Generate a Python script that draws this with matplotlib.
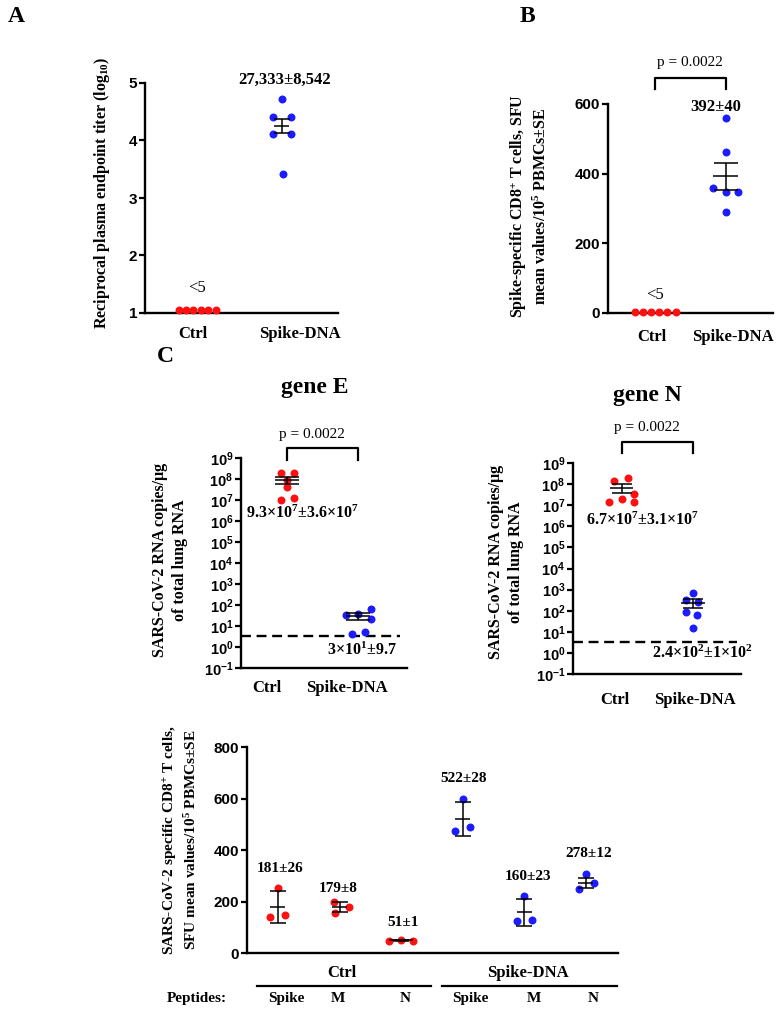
import matplotlib

matplotlib.use("Agg")
import matplotlib.pyplot as plt
from matplotlib.ticker import FixedFormatter, FixedLocator, NullLocator
import numpy as np

W, H = 782, 1013
RED = "#ff1010"
BLUE = "#1c1cff"

plt.rcParams["font.family"] = ["Liberation Serif", "DejaVu Serif"]
plt.rcParams["font.weight"] = "bold"
plt.rcParams["mathtext.fontset"] = "custom"
plt.rcParams["mathtext.rm"] = "Liberation Serif:bold"
plt.rcParams["mathtext.bf"] = "Liberation Serif:bold"
plt.rcParams["mathtext.it"] = "Liberation Serif:italic:bold"
plt.rcParams["mathtext.sf"] = "Liberation Sans:bold"

# ---------------- data ----------------
groups = ["Ctrl", "Spike-DNA"]

# A: reciprocal plasma endpoint titer (log10)
a_ctrl = [1.06, 1.06, 1.06, 1.06, 1.06, 1.06]
a_spike = [4.72, 4.40, 4.40, 4.12, 4.12, 3.42]
a_mean, a_err = 4.25, 0.12

# B: spike-specific CD8+ T cells (SFU)
b_ctrl = [3, 3, 3, 3, 3, 3]
b_spike = [560, 461, 359, 346, 346, 289]
b_mean, b_err = 392, 40

# C: lung RNA copies, gene E / gene N (log10 of copies)
e_ctrl = [8.28, 8.28, 7.93, 7.61, 6.98, 7.09]
e_spike = [1.52, 1.56, 1.79, 1.31, 0.64, 0.72]
e_stats = [(9.3e7, 3.6e7), (3.0e1, 9.7)]
n_ctrl = [8.13, 8.29, 7.51, 7.29, 7.16, 7.15]
n_spike = [2.85, 2.53, 2.42, 1.95, 1.79, 1.20]
n_stats = [(6.7e7, 3.1e7), (2.4e2, 1.0e2)]
lod = 10 ** 0.51

# bottom: SFU per peptide
peptides = ["Spike", "M", "N", "Spike", "M", "N"]
pep_vals = [
    [252, 140, 146],
    [197, 155, 179],
    [48, 50, 48],
    [599, 472, 489],
    [223, 126, 129],
    [308, 249, 272],
]
pep_mean = [179, 179, 49, 520, 158, 272]
pep_err = [61, 20, 1, 66, 52, 20]
pep_labels = ["181±26", "179±8", "51±1", "522±28", "160±23", "278±12"]

fig = plt.figure(figsize=(W / 100, H / 100), dpi=100)


def px_axes(l, t, r, b):
    return fig.add_axes([l / W, 1 - b / H, (r - l) / W, (b - t) / H])


def ftext(x, y, s, **kw):
    kw.setdefault("ha", "center")
    kw.setdefault("va", "center")
    fig.text(x / W, 1 - y / H, s, **kw)


def style(ax):
    for s in ("top", "right"):
        ax.spines[s].set_visible(False)
    for s in ("left", "bottom"):
        ax.spines[s].set_linewidth(1.7)
    ax.tick_params(axis="y", direction="out", length=4, width=1.6,
                   labelsize=11, pad=1.5, labelfontfamily="Liberation Sans")
    ax.set_xticks([])
    ax.patch.set_alpha(0)


def mean_err(ax, x, m, e, half, cap):
    ax.errorbar([x], [m], yerr=[[e], [e]], fmt="none", ecolor="k",
                elinewidth=1.1, capsize=cap, capthick=1.1, zorder=4)
    ax.hlines(m, x - half, x + half, color="k", lw=1.1, zorder=4)


def dots(ax, x, offs, vals, color):
    ax.scatter(np.array(offs) + x, vals, s=33, color=color, linewidths=0,
               zorder=3, clip_on=False)


# ---------------- panel A ----------------
axA = px_axes(145, 83, 338, 313)
style(axA)
axA.set_xlim(0.388, 2.659)
axA.set_ylim(1, 5)
axA.set_yticks([1, 2, 3, 4, 5])
u = 1 / 85
dots(axA, 1, [-18.5 * u, -11 * u, -3.7 * u, 3.7 * u, 11 * u, 18.5 * u], a_ctrl, RED)
dots(axA, 2, [0, -9 * u, 9 * u, -9 * u, 9 * u, 1 * u], a_spike, BLUE)
mean_err(axA, 2, a_mean, a_err, 7.5 * u, 5.8)
axA.text(2.03, 5.06, "27,333±8,542", ha="center", va="center", fontsize=12, clip_on=False)
axA.text(1, 1.43, "<5", ha="center", va="center", fontsize=12, fontweight="normal")
ftext(193, 334, groups[0], fontsize=12)
ftext(300, 334, groups[1], fontsize=12)
ftext(102, 193, "Reciprocal plasma endpoint titer (log$_{10}$)", rotation=90, fontsize=11.5)
ftext(16, 16, "A", fontsize=17)

# ---------------- panel B ----------------
axB = px_axes(608, 104, 773, 313)
style(axB)
axB.set_xlim(0.338, 2.662)
axB.set_ylim(0, 600)
axB.set_yticks([0, 200, 400, 600])
u = 1 / 71
dots(axB, 1, [-20.5 * u, -12.3 * u, -4.1 * u, 4.1 * u, 12.3 * u, 20.5 * u], b_ctrl, RED)
dots(axB, 2, [0, 0, -13 * u, 0, 12 * u, 0], b_spike, BLUE)
mean_err(axB, 2, b_mean, b_err, 12.5 * u, 8.6)
axB.plot([1, 1, 2, 2], [643, 675, 675, 643], color="k", lw=1.6, clip_on=False)
axB.text(1.49, 718, "p = 0.0022", ha="center", va="center", fontsize=11,
         fontweight="normal", clip_on=False)
axB.text(1.86, 591, "392±40", ha="center", va="center", fontsize=12, clip_on=False)
axB.text(1, 52, "<5", ha="center", va="center", fontsize=12, fontweight="normal")
ftext(652, 337, groups[0], fontsize=12)
ftext(733, 337, groups[1], fontsize=12)
ftext(529, 206, "Spike-specific CD8$^{+}$ T cells, SFU\nmean values/10$^{5}$ PBMCs±SE",
      rotation=90, fontsize=11.5, linespacing=1.25)
ftext(527, 16, "B", fontsize=17)


# ---------------- panel C ----------------
def log_panel(box, xlim, ctrl, ctrl_offs, spike, spike_offs, stats, half, cap,
              brk, ptxt, lab1, lab2, lod_frac):
    ax = px_axes(*box)
    style(ax)
    ax.set_yscale("log")
    ax.set_xlim(*xlim)
    ax.set_ylim(1e-1, 1e9)
    exps = list(range(-1, 10))
    ax.yaxis.set_major_locator(FixedLocator([10.0 ** k for k in exps]))
    ax.yaxis.set_major_formatter(FixedFormatter(["$\\mathsf{10^{%d}}$" % k for k in exps]))
    ax.yaxis.set_minor_locator(NullLocator())
    ax.tick_params(axis="y", labelsize=10.5)
    dots(ax, 1, ctrl_offs, 10 ** np.array(ctrl), RED)
    dots(ax, 2, spike_offs, 10 ** np.array(spike), BLUE)
    for x, (m, e) in zip([1, 2], stats):
        mean_err(ax, x, m, e, half, cap)
    ax.axhline(lod, xmin=0, xmax=lod_frac, color="k", lw=1.7, dashes=(4.2, 2.4), zorder=2)
    lo, hi = 10 ** brk[0], 10 ** brk[1]
    ax.plot([1, 1, 2, 2], [lo, hi, hi, lo], color="k", lw=1.6, clip_on=False)
    ax.text(ptxt[0], 10 ** ptxt[1], "p = 0.0022", ha="center", va="center",
            fontsize=11, fontweight="normal", clip_on=False)
    ax.text(lab1[0], 10 ** lab1[1], lab1[2], ha="center", va="center", fontsize=11.5)
    ax.text(lab2[0], 10 ** lab2[1], lab2[2], ha="center", va="center", fontsize=11.5,
            clip_on=False)
    return ax


u = 1 / 71
log_panel((241, 458, 407, 668), (0.352, 2.69),
          e_ctrl, [-6 * u, 7 * u, 0, 0, -6 * u, 7 * u],
          e_spike, [-12 * u, 0, 13 * u, 13 * u, -6 * u, 7 * u],
          e_stats, 12 * u, 8.6, (8.9, 9.48), (1.35, 10.14),
          (1.21, 6.38, "9.3×10$^{7}$±3.6×10$^{7}$"), (2.06, -0.14, "3×10$^{1}$±9.7"),
          0.96)
ftext(267, 688, groups[0], fontsize=12)
ftext(347, 688, groups[1], fontsize=12)
ftext(315, 388, "gene E", fontsize=17)
ftext(170, 560, "SARS-CoV-2 RNA copies/μg\nof total lung RNA", rotation=90,
      fontsize=11.5, linespacing=1.25)
ftext(165, 357, "C", fontsize=17)

log_panel((573, 463, 741, 674), (0.31, 2.676),
          n_ctrl, [-8 * u, 6 * u, 12 * u, 0, -13 * u, 12 * u],
          n_spike, [0, -7 * u, 5 * u, -7 * u, 4 * u, 0],
          n_stats, 11.5 * u, 7.2, (9.47, 10.0), (1.35, 10.66),
          (1.28, 6.3, "6.7×10$^{7}$±3.1×10$^{7}$"), (2.13, 0.0, "2.4×10$^{2}$±1×10$^{2}$"),
          0.976)
ftext(615, 700, groups[0], fontsize=12)
ftext(695, 700, groups[1], fontsize=12)
ftext(647, 395, "gene N", fontsize=17)
ftext(506, 562, "SARS-CoV-2 RNA copies/μg\nof total lung RNA", rotation=90,
      fontsize=11.5, linespacing=1.25)

# ---------------- bottom panel ----------------
axD = px_axes(247, 747, 618, 953)
style(axD)
axD.set_xlim(0.497, 6.52)
axD.set_ylim(0, 800)
axD.set_yticks([0, 200, 400, 600, 800])
u = 1 / 61.6
pep_offs = [
    [0, -8 * u, 7 * u],
    [-6 * u, -5 * u, 9 * u],
    [-12 * u, 0, 12 * u],
    [0, -8 * u, 7 * u],
    [0, -7 * u, 8 * u],
    [0, -7 * u, 8 * u],
]
pep_y = [330, 252, 117, 676, 299, 388]
pep_dx = [0.03, -0.03, 0.03, 0.02, 0.06, 0.05]
for i, vals in enumerate(pep_vals):
    x = i + 1
    dots(axD, x, pep_offs[i], vals, RED if i < 3 else BLUE)
    mean_err(axD, x, pep_mean[i], pep_err[i], 7.5 * u if i != 2 else 12 * u, 5.8)
    axD.text(x + pep_dx[i], pep_y[i], pep_labels[i], ha="center", va="center", fontsize=11)

ftext(342, 973, groups[0], fontsize=12)
ftext(528, 973, groups[1], fontsize=12)
for x0, x1 in [(257, 431), (442, 617)]:
    fig.add_artist(plt.Line2D([x0 / W, x1 / W], [1 - 986 / H, 1 - 986 / H],
                              color="k", lw=1.6))
ftext(197, 998, "Peptides:", fontsize=11)
for xp, lab in zip([286, 338, 405, 470, 534, 593], peptides):
    ftext(xp, 998, lab, fontsize=11)
ftext(180, 840, "SARS-CoV-2 specific CD8$^{+}$ T cells,\nSFU mean values/10$^{5}$ PBMCs±SE",
      rotation=90, fontsize=11, linespacing=1.25)

fig.savefig("out.png", dpi=100)
